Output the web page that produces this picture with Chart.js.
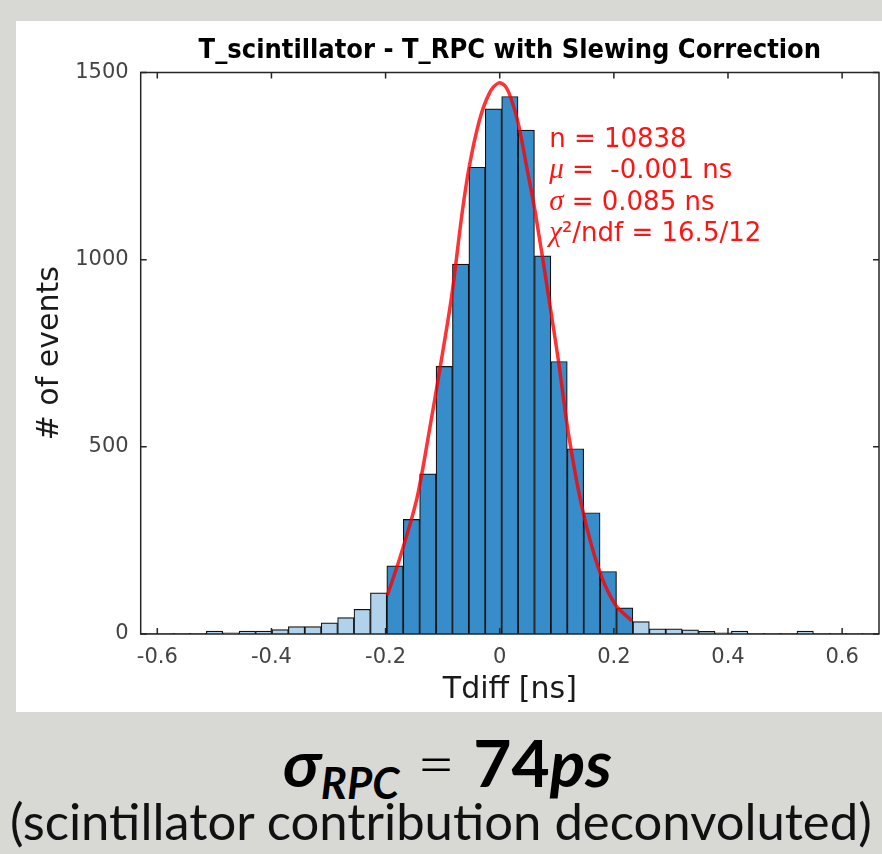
<!DOCTYPE html>
<html><head><meta charset="utf-8">
<script src="https://cdn.jsdelivr.net/npm/chart.js@4.4.1/dist/chart.umd.min.js"></script>
<style>
html,body{margin:0;padding:0;}
body{width:882px;height:854px;background:#d8d9d5;position:relative;overflow:hidden;font-family:"DejaVu Sans",sans-serif;}
#panel{position:absolute;left:16px;top:21px;width:866px;height:691px;background:#fff;}
#c{display:block;}
.cap{position:absolute;left:0;white-space:nowrap;line-height:1;color:#000;font-family:Lato,"DejaVu Sans",sans-serif;}
#cap1{top:729px;}
#cap1 .bi{font-weight:bold;font-style:italic;}
#cap1 .b{font-weight:bold;}
#cap1 .sub{font-size:0.66em;position:relative;top:0.28em;}
#cap1 .eq{font-weight:300;}
#cap2{top:796px;color:#111;}
</style></head><body>
<div id="panel"><canvas id="c" width="866" height="691"></canvas></div>
<div id="cap1" class="cap"><span class="bi">σ</span><span class="bi sub">RPC</span><span class="eq"> = </span><span class="b">74</span><span class="bi">ps</span></div>
<div id="cap2" class="cap">(scintillator contribution deconvoluted)</div>
<script>
// ---- data ----
const BIN_CENTERS = [
  -0.6147, -0.5860, -0.5572, -0.5285, -0.4997, -0.4710, -0.4422, -0.4135, -0.3847, -0.3560,
  -0.3272, -0.2985, -0.2697, -0.2410, -0.2122, -0.1835, -0.1547, -0.1260, -0.0972, -0.0685,
  -0.0397, -0.0110,  0.0178,  0.0465,  0.0753,  0.1040,  0.1328,  0.1615,  0.1903,  0.2190,
   0.2478,  0.2765,  0.3053,  0.3340,  0.3628,  0.3915,  0.4203,  0.4490,  0.4778,  0.5065,
   0.5353,  0.5640,  0.5928,  0.6215,  0.6503
];
const COUNTS = [
  1, 2, 2, 2, 8, 3, 8, 8, 12, 20,
  20, 30, 44, 66, 110, 182, 306, 428, 715, 988,
  1247, 1403, 1436, 1346, 1010, 728, 495, 324, 167, 70,
  33, 14, 14, 11, 7, 3, 8, 2, 2, 2,
  8, 2, 2, 2, 1
];
const FIT_FIRST_BIN = 15;
const FIT_LAST_BIN = 29;
const FIT_X = [-0.197, -0.1746, -0.1453, -0.122, -0.1045, -0.084, -0.0664, -0.0536, -0.0356, -0.018,
  -0.002, 0.0095, 0.020, 0.0328, 0.0475, 0.062, 0.0853, 0.1029, 0.1204, 0.1439, 0.173, 0.2022, 0.2315];
const FIT_Y = [103, 205, 361, 555, 711, 905, 1119, 1247, 1372, 1445,
  1472, 1464, 1430, 1362, 1246, 1129, 905, 730, 536, 341, 176, 79, 35];
const X_TICKS = [-0.6, -0.4, -0.2, 0, 0.2, 0.4, 0.6];
const Y_TICKS = [0, 500, 1000, 1500];
const TITLE = 'T_scintillator - T_RPC with Slewing Correction';
const X_TITLE = 'Tdiff [ns]';
const Y_TITLE = '# of events';
const STATS_GREEK = ['', 'μ', 'σ', 'χ'];
const STATS_TEXT = ['n = 10838', ' =  -0.001 ns', ' = 0.085 ns', '²/ndf = 16.5/12'];
const STATS_X = 0.0866;
const STATS_Y = [1302, 1218, 1134, 1049];

// ---- title size: fit the width seen in the picture ----
const TITLE_FAMILY = '"DejaVu Sans Condensed", "DejaVu Sans"';
const mctx = document.createElement('canvas').getContext('2d');
mctx.font = 'bold 100px ' + TITLE_FAMILY;
const titleSize = Math.min(27, 626 * 100 / mctx.measureText(TITLE).width);
const titleLH = titleSize * 1.2;
const titlePadTop = 30.4 - titleLH / 2;
const titlePadBottom = 51.5 - titlePadTop - titleLH;

// ---- plugins ----
const framePlugin = {
  id: 'frame',
  afterDraw(chart) {
    const {ctx, chartArea: a, scales: {x, y}} = chart;
    ctx.save();
    ctx.strokeStyle = '#262626';
    ctx.lineWidth = 1.5;
    ctx.strokeRect(a.left, a.top, a.right - a.left, a.bottom - a.top);
    ctx.beginPath();
    X_TICKS.forEach(v => {
      const p = x.getPixelForValue(v);
      ctx.moveTo(p, a.bottom); ctx.lineTo(p, a.bottom - 6);
      ctx.moveTo(p, a.top); ctx.lineTo(p, a.top + 6);
    });
    Y_TICKS.forEach(v => {
      const p = y.getPixelForValue(v);
      ctx.moveTo(a.left, p); ctx.lineTo(a.left + 6, p);
      ctx.moveTo(a.right, p); ctx.lineTo(a.right - 6, p);
    });
    ctx.stroke();
    ctx.restore();
  }
};
const statsPlugin = {
  id: 'stats',
  afterDraw(chart) {
    const {ctx, scales: {x, y}} = chart;
    const px = x.getPixelForValue(STATS_X);
    ctx.save();
    ctx.fillStyle = '#ff1414';
    ctx.textBaseline = 'alphabetic';
    ctx.textAlign = 'left';
    STATS_TEXT.forEach((t, i) => {
      const py = y.getPixelForValue(STATS_Y[i]);
      let cx = px;
      if (STATS_GREEK[i]) {
        ctx.font = 'italic 29px "Liberation Serif"';
        ctx.fillText(STATS_GREEK[i], cx, py);
        cx += ctx.measureText(STATS_GREEK[i]).width;
      }
      ctx.font = '26px "DejaVu Sans"';
      ctx.fillText(t, cx, py);
    });
    ctx.restore();
  }
};

const tickFont = {family: 'DejaVu Sans', size: 21};
const titleFont = {family: 'DejaVu Sans', size: 30};

new Chart(document.getElementById('c'), {
  type: 'bar',
  data: {
    datasets: [
      {
        type: 'bar',
        data: BIN_CENTERS.map((c, i) => ({x: c, y: COUNTS[i]})),
        backgroundColor: ctx => (ctx.dataIndex >= FIT_FIRST_BIN && ctx.dataIndex <= FIT_LAST_BIN) ? '#368dc9' : '#b0d3eb',
        borderColor: '#111',
        borderWidth: 1.2,
        borderSkipped: 'start',
        barPercentage: 1,
        categoryPercentage: 1,
        order: 2
      },
      {
        type: 'line',
        data: FIT_X.map((v, i) => ({x: v, y: FIT_Y[i]})),
        borderColor: 'rgba(255,0,0,0.8)',
        borderWidth: 3.5,
        pointRadius: 0,
        fill: false,
        tension: 0.3,
        order: 1
      }
    ]
  },
  options: {
    responsive: false,
    animation: false,
    events: [],
    layout: {padding: {left: 0, right: 3, top: 0, bottom: 0}},
    plugins: {
      legend: {display: false},
      tooltip: {enabled: false},
      title: {
        display: true,
        text: TITLE,
        fullSize: false,
        color: '#000',
        font: {family: TITLE_FAMILY, size: titleSize, weight: 'bold', lineHeight: 1.2},
        padding: {top: titlePadTop, bottom: titlePadBottom}
      }
    },
    scales: {
      x: {
        type: 'linear',
        min: -0.6291,
        max: 0.6646,
        offset: false,
        grid: {display: false, drawTicks: false, offset: false},
        border: {display: false},
        afterBuildTicks: s => { s.ticks = X_TICKS.map(v => ({value: v})); },
        afterFit: s => { s.height = 78; },
        ticks: {font: tickFont, color: '#444', padding: 11, maxRotation: 0, autoSkip: false,
          callback: v => String(v)},
        title: {display: true, text: X_TITLE, font: titleFont, color: '#1a1a1a', padding: {top: 0, bottom: 4}}
      },
      y: {
        type: 'linear',
        min: 0,
        max: 1500,
        grid: {display: false, drawTicks: false},
        border: {display: false},
        afterBuildTicks: s => { s.ticks = Y_TICKS.map(v => ({value: v})); },
        afterFit: s => { s.width = 124.7; },
        ticks: {font: tickFont, color: '#444', padding: 12, autoSkip: false, callback: v => String(v)},
        title: {display: true, text: Y_TITLE, font: titleFont, color: '#1a1a1a', padding: {top: 16, bottom: 0}}
      }
    }
  },
  plugins: [framePlugin, statsPlugin]
});

// fit caption lines to the widths seen in the picture
function fitText(id, left, right, size) {
  const el = document.getElementById(id);
  el.style.fontSize = size + 'px';
  const w = el.getBoundingClientRect().width;
  el.style.fontSize = (size * (right - left) / w) + 'px';
  el.style.left = left + 'px';
}
fitText('cap1', 283, 612, 50);
fitText('cap2', 10, 872, 46);
</script>
</body></html>
